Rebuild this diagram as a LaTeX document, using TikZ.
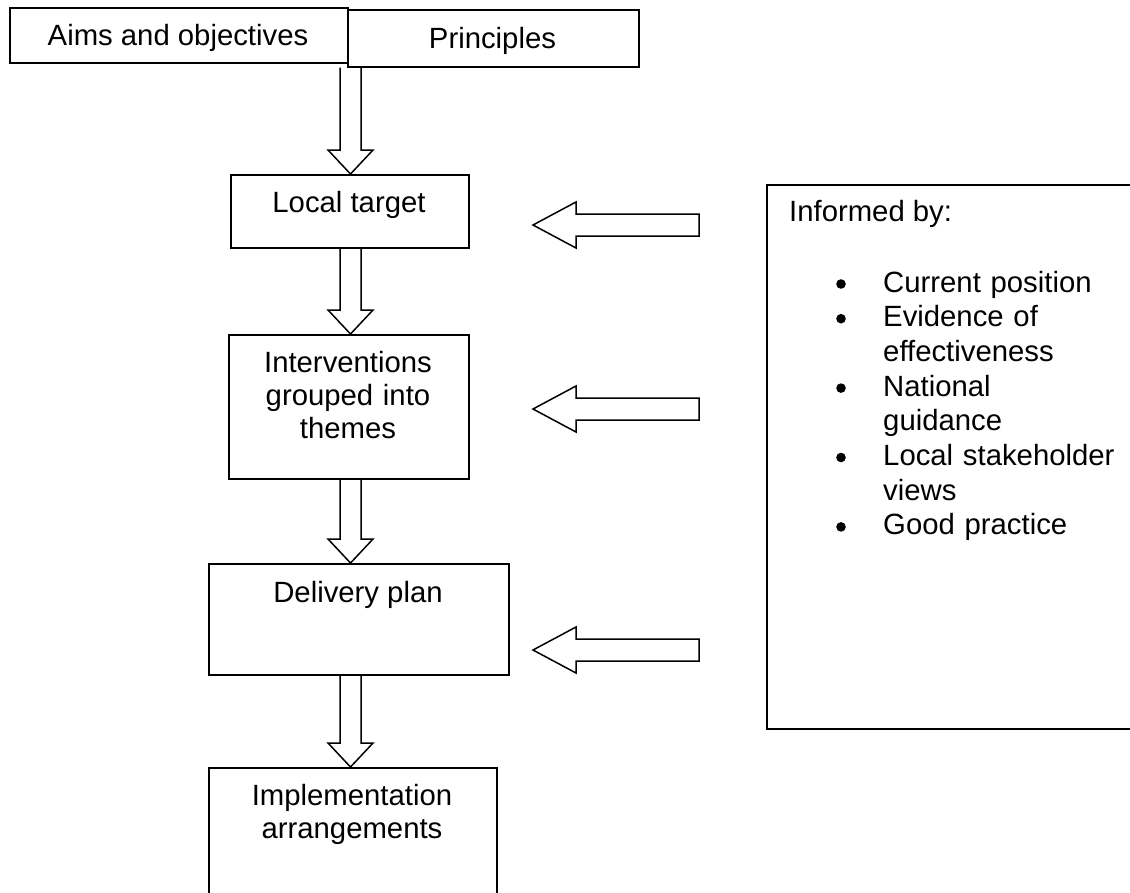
\documentclass[tikz,border=0pt]{standalone}
\usepackage{fontspec}
\setmainfont{Liberation Sans}
\usetikzlibrary{calc}

\tikzset{
	box/.style={draw, line width=1.5pt, inner sep=0pt, anchor=north west},
	txt/.style={inner sep=0pt, anchor=base, align=center, font=\fontsize{29.3}{33}\selectfont},
	blockarrow/.style={draw, line width=1.5pt, line join=miter},
}

% hollow arrow from the bottom of one box down to the top of the next
\newcommand{\flowarrow}[2]{%
	\coordinate (fa1) at (col |- #1.south);
	\coordinate (fa2) at (col |- #2.north);
	\draw[blockarrow] ($(fa1)+(-10.5,0)$) -- ($(fa2)+(-10.5,-24)$) -- ($(fa2)+(-22.5,-24)$) -- (fa2)
		-- ($(fa2)+(22.5,-24)$) -- ($(fa2)+(10.5,-24)$) -- ($(fa1)+(10.5,0)$);
}

\begin{document}
\begin{tikzpicture}[x=1pt, y=-1pt]
	\useasboundingbox (0,0) rectangle (1130,892);
	\clip (0,0) rectangle (1130,892);
	\coordinate (col) at (350.5,0);

	% Top boxes
	\node[box, minimum width=338pt, minimum height=55pt] (aims) at (9,7) {};
	\node[box, minimum width=291pt, minimum height=57pt] (principles) at (347,9) {};
	\node[txt] (aimstxt) at (178,45) {Aims and objectives};
	\node[txt] (principlestxt) at (492.5,48) {Principles};

	% Main column
	\node[box, minimum width=238pt, minimum height=73pt] (target) at (230,174) {};
	\node[txt] (targettxt) at (349,212) {Local target};

	\node[box, minimum width=240pt, minimum height=144pt] (themes) at (228,334) {};
	\node[txt, text width=230pt] (themestxt) at (348,372) {Interventions\\grouped into\\themes};

	\node[box, minimum width=300pt, minimum height=111pt] (plan) at (208,563) {};
	\node[txt] (plantxt) at (358,602) {Delivery plan};

	% runs off the bottom of the page
	\node[box, minimum width=288pt, minimum height=200pt] (impl) at (208,767) {};
	\node[txt, text width=280pt] (impltxt) at (352,805) {Implementation\\arrangements};

	% Arrows down the column
	\flowarrow{principles}{target}
	\flowarrow{target}{themes}
	\flowarrow{themes}{plan}
	\flowarrow{plan}{impl}

	% Informed by box (runs off the right edge)
	\node[box, minimum width=500pt, minimum height=544pt] (informed) at (766,184) {};
	\node[txt, anchor=base west] (informedtxt) at (789,221) {Informed by:};
	\node[txt, anchor=base west, align=left, text width=245pt, font=\fontsize{29.3}{34.7}\selectfont] (listtxt) at (883,292)
		{Current position\\Evidence of\\effectiveness\\National\\guidance\\Local stakeholder\\views\\Good practice};
	\foreach \b in {292,326.7,396.1,465.5,534.9}
		\fill (841,\b-8) circle[radius=4.8pt];

	% Arrows pointing back to the column
	\foreach \y in {225,409,650}
		\draw[blockarrow] (533,\y) -- (576,\y-23) -- (576,\y-11) -- (699,\y-11) -- (699,\y+11)
			-- (576,\y+11) -- (576,\y+23) -- cycle;

\end{tikzpicture}
\end{document}
